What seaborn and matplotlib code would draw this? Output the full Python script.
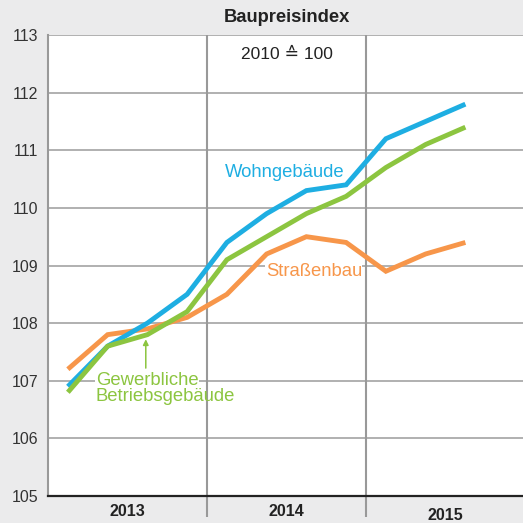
import matplotlib
matplotlib.use("Agg")
import matplotlib.pyplot as plt
import matplotlib.transforms as mtransforms
import numpy as np
import pandas as pd
import seaborn as sns

# Quarterly construction price indices, 2010 = 100
quarters = ["2013Q1", "2013Q2", "2013Q3", "2013Q4",
            "2014Q1", "2014Q2", "2014Q3", "2014Q4",
            "2015Q1", "2015Q2", "2015Q3"]
wohngebaeude = [106.9, 107.6, 108.0, 108.5, 109.4, 109.9, 110.3, 110.4, 111.2, 111.5, 111.8]
gewerbliche = [106.8, 107.6, 107.8, 108.2, 109.1, 109.5, 109.9, 110.2, 110.7, 111.1, 111.4]
strassenbau = [107.2, 107.8, 107.9, 108.1, 108.5, 109.2, 109.5, 109.4, 108.9, 109.2, 109.4]
years = [2013, 2014, 2015]
y_ticks = [105, 106, 107, 108, 109, 110, 111, 112, 113]

series_names = ["Wohngebäude", "Gewerbliche Betriebsgebäude", "Straßenbau"]
colors = {"Wohngebäude": "#1eaee2",
          "Gewerbliche Betriebsgebäude": "#8cc540",
          "Straßenbau": "#f7964a"}

# quarter midpoints on a fractional-year axis
def quarter_pos(q):
    y, n = int(q[:4]), int(q[-1])
    return y + (n - 0.5) / 4

df = pd.DataFrame({
    "x": [quarter_pos(q) for q in quarters] * 3,
    "value": wohngebaeude + gewerbliche + strassenbau,
    "series": np.repeat(series_names, len(quarters)),
})

sns.set_style("white")
plt.rcParams["font.family"] = ["Liberation Sans", "DejaVu Sans"]

bg = "#ebebec"
W = H = 523
fig = plt.figure(figsize=(W / 100, H / 100), dpi=100, facecolor=bg)
ax = fig.add_axes([48 / W, (H - 496) / H, (W - 48) / W, (496 - 35) / H])
ax.set_facecolor("white")

x0 = 2013.0
x1 = x0 + (W - 48) / 159.0
ax.set_xlim(x0, x1)
ax.set_ylim(105, 113)

# horizontal grid
for v in y_ticks[1:]:
    ax.axhline(v, color="#aaaaaa", lw=1.3, zorder=1)

# year separators, reaching below the axis
for yr in years[1:]:
    ax.axvline(yr, ymin=-0.046, ymax=1, color="#999999", lw=1.5,
               clip_on=False, zorder=1)

sns.lineplot(data=df, x="x", y="value", hue="series", palette=colors,
             hue_order=["Straßenbau", "Wohngebäude", "Gewerbliche Betriebsgebäude"],
             lw=3.5, legend=False, ax=ax, zorder=3)
for ln in ax.lines:
    ln.set_solid_capstyle("butt")
    ln.set_solid_joinstyle("miter")

# spines
for s in ["top", "right"]:
    ax.spines[s].set_visible(False)
ax.spines["left"].set_color("#999999")
ax.spines["left"].set_linewidth(1.5)
ax.spines["bottom"].set_color("#222222")
ax.spines["bottom"].set_linewidth(1.6)

# y axis
ax.set_yticks(y_ticks)
ax.set_yticklabels([str(v) for v in y_ticks])
ax.tick_params(axis="y", length=0, pad=7, labelsize=11.5, labelcolor="#333333")

# monthly ticks on the bottom axis
months = np.arange(x0, x1, 1 / 12)
ax.set_xticks(months)
ax.set_xticklabels([])
ax.tick_params(axis="x", direction="in", length=5, width=0.9, color="#555555")
ax.set_xlabel("")
ax.set_ylabel("")

# year labels
trans = mtransforms.blended_transform_factory(ax.transData, fig.transFigure)
year_y = {2013: 512, 2014: 511, 2015: 515}
for yr in years:
    ax.text(yr + 0.5, 1 - year_y[yr] / H, str(yr), transform=trans,
            ha="center", va="center", fontsize=11.5, fontweight="bold",
            color="#222222")

# titles
fig.text(287 / W, 1 - 17 / H, "Baupreisindex", ha="center", va="center",
         fontsize=13.2, fontweight="bold", color="#222222")
ax.text(2014.5, 112.67, "2010 ≙ 100", ha="center", va="center",
        fontsize=12.5, color="#222222")

# series labels (white backing hides the grid behind the text)
knockout = dict(facecolor="white", edgecolor="none", pad=0.3)
ax.text(2014.112, 110.62, "Wohngebäude", ha="left", va="center",
        fontsize=13.3, color=colors["Wohngebäude"])
ax.text(2014.37, 108.9, "Straßenbau", ha="left", va="center",
        fontsize=13.3, color=colors["Straßenbau"], zorder=2, bbox=knockout)
ax.text(2013.3, 107.0, "Gewerbliche", ha="left", va="center",
        fontsize=13.3, color=colors["Gewerbliche Betriebsgebäude"],
        zorder=4, bbox=knockout)
ax.text(2013.3, 106.72, "Betriebsgebäude", ha="left", va="center",
        fontsize=13.3, color=colors["Gewerbliche Betriebsgebäude"], zorder=4)
ax.annotate("", xy=(2013.615, 107.72), xytext=(2013.615, 107.22),
            arrowprops=dict(arrowstyle="-|>", color=colors["Gewerbliche Betriebsgebäude"],
                            lw=1.1, mutation_scale=8, shrinkA=0, shrinkB=0))

fig.savefig("out.png", dpi=100, facecolor=bg)
